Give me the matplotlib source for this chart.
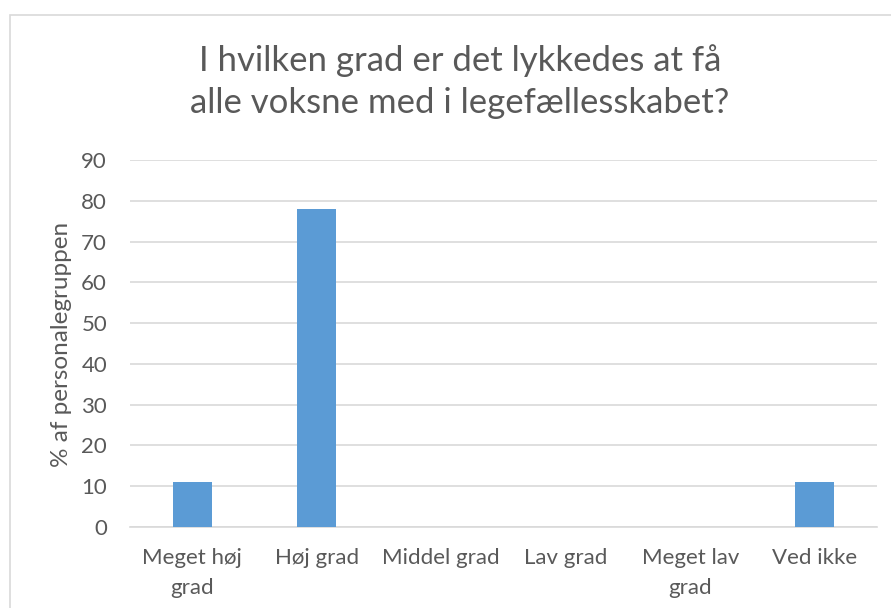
import matplotlib.pyplot as plt
from matplotlib.patches import Rectangle

categories = ['Meget høj\ngrad', 'Høj grad', 'Middel grad', 'Lav grad', 'Meget lav\ngrad', 'Ved ikke']
values = [11, 78, 0, 0, 0, 11]
yticks = [0, 10, 20, 30, 40, 50, 60, 70, 80, 90]

plt.rcParams['font.family'] = ['Lato', 'DejaVu Sans']
text_color = '#595959'
grid_color = '#D9D9D9'

fig = plt.figure(figsize=(8.91, 6.08), dpi=100)
# chart border like in Excel
fig.patches.append(Rectangle((10 / 891, -0.05), 1.1, (608 - 15) / 608 + 0.05,
                             transform=fig.transFigure, fill=False,
                             edgecolor='#D9D9D9', linewidth=1.2))

ax = fig.add_axes([130 / 891, 81 / 608, 747 / 891, 367 / 608])
ax.bar(range(len(categories)), values, width=0.31, color='#5B9BD5', zorder=3)

ax.set_xlim(-0.5, len(categories) - 0.5)
ax.set_ylim(0, 90)
ax.set_yticks(yticks)
ax.set_xticks(range(len(categories)))
ax.set_xticklabels(categories, linespacing=1.65)
ax.yaxis.grid(True, color=grid_color, linewidth=1.2)
ax.set_axisbelow(True)
for side in ['top', 'right', 'left']:
    ax.spines[side].set_visible(False)
ax.spines['bottom'].set_color(grid_color)
ax.spines['bottom'].set_linewidth(1.2)
ax.tick_params(axis='both', length=0, labelsize=16, colors=text_color)
ax.tick_params(axis='y', pad=16.5)
ax.tick_params(axis='x', pad=15)

fig.text(62 / 891, 1 - 344 / 608, '% af personalegruppen', rotation=90,
         ha='center', va='center', fontsize=17.5, color=text_color)
fig.text(460 / 891, 1 - 82 / 608, 'I hvilken grad er det lykkedes at få\nalle voksne med i legefællesskabet?',
         ha='center', va='center', fontsize=25, color=text_color, linespacing=1.38)

fig.savefig('out.png', dpi=100)
